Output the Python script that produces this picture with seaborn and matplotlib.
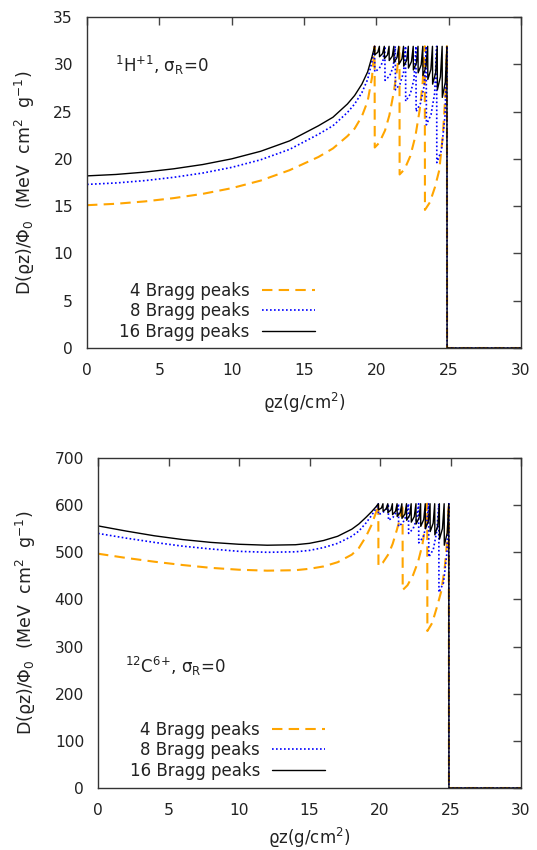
import matplotlib
matplotlib.use("Agg")
import matplotlib.pyplot as plt
import seaborn as sns
import pandas as pd

# ---------------- data: proton (top) ----------------
h4_x = [0, 2, 4, 6, 8, 10, 12, 14, 15, 16, 17, 18, 18.5, 19, 19.4, 19.7, 19.88,
        19.89, 20.2, 20.6, 20.9, 21.2, 21.45, 21.6,
        21.61, 21.95, 22.35, 22.7, 23.0, 23.2, 23.35,
        23.36, 23.7, 24.05, 24.35, 24.6, 24.78, 24.88,
        24.89, 30]
h4_y = [15.1, 15.25, 15.5, 15.85, 16.3, 16.9, 17.7, 18.8, 19.5, 20.2, 21.1, 22.4, 23.2, 24.5, 26.1, 28.6, 31.9,
        21.2, 21.7, 23.0, 24.6, 27.0, 29.6, 31.9,
        18.35, 18.9, 20.3, 22.4, 25.2, 28.0, 31.9,
        14.6, 15.4, 17.0, 18.8, 22.5, 27.0, 31.9,
        0, 0]

h8_x = [0, 2, 4, 6, 8, 10, 12, 14, 15, 16, 17, 18, 18.5, 19, 19.4, 19.7, 19.88,
        19.89, 20.2, 20.45, 20.59,
        20.6, 20.92, 21.17, 21.31,
        21.32, 21.63, 21.88, 22.02,
        22.03, 22.35, 22.6, 22.74,
        22.75, 23.06, 23.31, 23.45,
        23.46, 23.78, 24.03, 24.17,
        24.18, 24.5, 24.75, 24.88,
        24.89, 30]
h8_y = [17.3, 17.45, 17.7, 18.05, 18.5, 19.1, 19.9, 21.0, 21.8, 22.6, 23.5, 24.9, 25.8, 27.0, 28.4, 30.3, 31.9,
        29.2, 29.55, 30.28, 31.9,
        28.3, 28.77, 29.74, 31.9,
        27.3, 27.9, 29.14, 31.9,
        26.1, 26.85, 28.42, 31.9,
        25.0, 25.9, 27.76, 31.9,
        23.6, 24.68, 26.92, 31.9,
        19.6, 20.9, 24.6, 31.9,
        0, 0]

h16_x = [0, 2, 4, 6, 8, 10, 12, 14, 15, 16, 17, 18, 18.5, 19, 19.4, 19.7, 19.88,
         19.89, 20.1, 20.21, 20.22, 20.43, 20.55, 20.56, 20.77, 20.88,
         20.89, 21.1, 21.21, 21.22, 21.43, 21.55, 21.56, 21.77, 21.88,
         21.89, 22.1, 22.21, 22.22, 22.43, 22.55, 22.56, 22.77, 22.88,
         22.89, 23.1, 23.21, 23.22, 23.43, 23.55, 23.56, 23.77, 23.88,
         23.89, 24.1, 24.21, 24.22, 24.43, 24.55, 24.56, 24.77, 24.88,
         24.89, 30]
h16_y = [18.2, 18.35, 18.6, 18.95, 19.4, 20.0, 20.8, 21.9, 22.7, 23.5, 24.4, 25.8, 26.7, 27.9, 29.2, 30.8, 31.9,
         31.0, 31.27, 31.9, 30.8, 31.13, 31.9, 30.6, 30.99, 31.9,
         30.4, 30.85, 31.9, 30.2, 30.71, 31.9, 30.0, 30.57, 31.9,
         29.8, 30.43, 31.9, 29.6, 30.29, 31.9, 29.4, 30.15, 31.9,
         29.1, 29.94, 31.9, 28.8, 29.73, 31.9, 28.4, 29.45, 31.9,
         27.9, 29.1, 31.9, 27.3, 28.68, 31.9, 26.5, 28.12, 31.9,
         0, 0]

# ---------------- data: carbon (bottom) ----------------
c4_x = h4_x
c4_y = [497, 488, 480, 473, 467, 463, 461, 462, 465, 470, 479, 495, 509, 533, 558, 583, 603,
        471, 478, 496, 518, 548, 575, 603,
        420, 430, 452, 480, 515, 553, 603,
        333, 350, 385, 418, 470, 530, 603,
        0, 0]

c8_x = h8_x
c8_y = [540, 530, 521, 513, 507, 502, 500, 501, 504, 510, 519, 534, 545, 562, 578, 592, 603,
        580, 584, 592, 603,
        568, 574, 586, 603,
        555, 563, 579, 603,
        540, 550, 571, 603,
        520, 532, 560, 603,
        490, 506, 545, 603,
        415, 435, 500, 603,
        0, 0]

c16_x = h16_x
c16_y = [556, 545, 535, 527, 521, 517, 515, 516, 519, 525, 534, 549, 560, 574, 586, 596, 603,
         590, 593.9, 603, 587, 591.8, 603, 584, 589.7, 603,
         580, 586.9, 603, 576, 584.1, 603, 572, 581.3, 603,
         568, 578.5, 603, 564, 575.7, 603, 560, 572.9, 603,
         555, 569.4, 603, 550, 565.9, 603, 544, 561.7, 603,
         537, 556.8, 603, 528, 550.5, 603, 515, 541.4, 603,
         0, 0]

series_labels = ["4 Bragg peaks", "8 Bragg peaks", "16 Bragg peaks"]
x_ticks = [0, 5, 10, 15, 20, 25, 30]
h_yticks = [0, 5, 10, 15, 20, 25, 30, 35]
c_yticks = [0, 100, 200, 300, 400, 500, 600, 700]

# ---------------- style ----------------
sns.set_style("white")
plt.rcParams["font.family"] = ["DejaVu Sans"]
plt.rcParams["mathtext.fontset"] = "dejavusans"
plt.rcParams["mathtext.default"] = "regular"
plt.rcParams["font.size"] = 12

FS = 12
TFS = 11.2
TXT = "#222222"

styles = [
    dict(color="#FFA500", lw=1.5, dashes=(5, 3)),
    dict(color="#0000FF", lw=1.2, dashes=(1, 1.4)),
    dict(color="black", lw=1.0, dashes=None),
]

fig = plt.figure(figsize=(5.37, 8.5), dpi=100)
ax1 = fig.add_axes([87 / 537, (850 - 348) / 850, (521 - 87) / 537, (348 - 17) / 850])
ax2 = fig.add_axes([98 / 537, (850 - 788) / 850, (521 - 98) / 537, (788 - 458) / 850])


def draw(ax, xs, ys, ylim, yticks, note, note_xy, leg_anchor, xpad):
    for (x, y), lab, st in zip(zip(xs, ys), series_labels, styles):
        df = pd.DataFrame({"x": x, "y": y})
        sns.lineplot(data=df, x="x", y="y", ax=ax, estimator=None, sort=False,
                     color=st["color"], linewidth=st["lw"], label=lab)
        l = ax.get_lines()[-1]
        if st["dashes"] is not None:
            l.set_dashes(st["dashes"])
    ax.set_xlim(0, 30)
    ax.set_ylim(*ylim)
    ax.set_xticks(x_ticks)
    ax.set_yticks(yticks)
    ax.tick_params(direction="in", top=True, right=True, length=5.5, width=1,
                   color="#444444", labelcolor=TXT, labelsize=TFS)
    ax.tick_params(axis="x", pad=10.5)
    ax.tick_params(axis="y", pad=10)
    for s in ax.spines.values():
        s.set_color("#333333")
        s.set_linewidth(1.0)
    ax.set_xlabel("ϱz(g/cm$^2$)", fontsize=FS, color=TXT, labelpad=xpad)
    ax.set_ylabel("D(ϱz)/Φ$_0$  (MeV  cm$^2$  g$^{-1}$)", fontsize=12.5, color=TXT, labelpad=12)
    ax.text(note_xy[0], note_xy[1], note, transform=ax.transAxes, fontsize=FS,
            color=TXT, ha="left", va="center")
    leg = ax.legend(loc="lower right", bbox_to_anchor=leg_anchor, frameon=False,
                    markerfirst=False, handlelength=3.2, handletextpad=0.7,
                    labelspacing=0.15, borderpad=0, borderaxespad=0, fontsize=FS)
    for t in leg.get_texts():
        t.set_color(TXT)


draw(ax1, [h4_x, h8_x, h16_x], [h4_y, h8_y, h16_y], (0, 35), h_yticks,
     "$^{1}$H$^{+1}$, σ$_{R}$=0", (0.065, 0.855), (0.525, 0.022), 9.5)
draw(ax2, [c4_x, c8_x, c16_x], [c4_y, c8_y, c16_y], (0, 700), c_yticks,
     "$^{12}$C$^{6}$$^{+}$, σ$_{R}$=0", (0.065, 0.367), (0.537, 0.025), 6)

fig.savefig("out.png", dpi=100)
